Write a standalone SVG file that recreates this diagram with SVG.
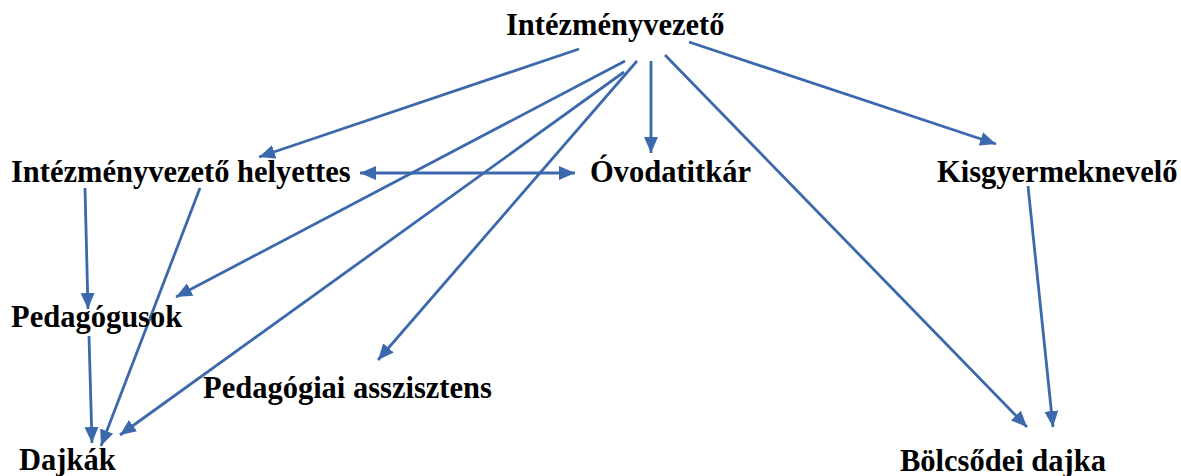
<svg xmlns="http://www.w3.org/2000/svg" width="1181" height="476" viewBox="0 0 1181 476">
<style>
.lbl{font-family:"Liberation Serif","Times New Roman",serif;font-weight:bold;font-size:30.5px;fill:#000}
.c{stroke:#3B69AC;stroke-width:2.8;fill:none;marker-end:url(#ah)}
</style>
<defs>
<marker id="ah" markerUnits="userSpaceOnUse" markerWidth="16" markerHeight="14" refX="16" refY="7" orient="auto-start-reverse" viewBox="0 0 16 14">
<path d="M0,0 L16,7 L0,14 z" fill="#3B69AC"/>
</marker>
</defs>
<rect width="1181" height="476" fill="#fff"/>
<g id="connectors">
<line class="c" x1="579" y1="49" x2="259" y2="157"/>
<line class="c" x1="625" y1="61" x2="176" y2="297"/>
<line class="c" x1="624" y1="72" x2="120" y2="435"/>
<line class="c" x1="637" y1="61" x2="378" y2="360"/>
<line class="c" x1="651" y1="61" x2="651" y2="153"/>
<line class="c" x1="665" y1="55" x2="1027" y2="427"/>
<line class="c" x1="689" y1="42" x2="996" y2="144"/>
<line class="c" x1="1028" y1="186" x2="1053" y2="427"/>
<line class="c" x1="360" y1="173" x2="575" y2="173" style="marker-start:url(#ah)"/>
<line class="c" x1="85" y1="188" x2="88" y2="309"/>
<line class="c" x1="200" y1="188" x2="101" y2="446"/>
<line class="c" x1="89" y1="336" x2="92" y2="443"/>
</g>
<g id="intezmenyvezeto"><text class="lbl" x="506" y="35">Intézményvezető</text></g>
<g id="helyettes"><text class="lbl" x="11" y="182">Intézményvezető helyettes</text></g>
<g id="ovodatitkar"><text class="lbl" x="590" y="182">Óvodatitkár</text></g>
<g id="kisgyermeknevelo"><text class="lbl" x="937" y="182">Kisgyermeknevelő</text></g>
<g id="pedagogusok"><text class="lbl" x="11" y="327">Pedagógusok</text></g>
<g id="pedagogiai-asszisztens"><text class="lbl" x="203" y="398">Pedagógiai asszisztens</text></g>
<g id="dajkak"><text class="lbl" x="19" y="470">Dajkák</text></g>
<g id="bolcsodei-dajka"><text class="lbl" x="900" y="471">Bölcsődei dajka</text></g>
</svg>
